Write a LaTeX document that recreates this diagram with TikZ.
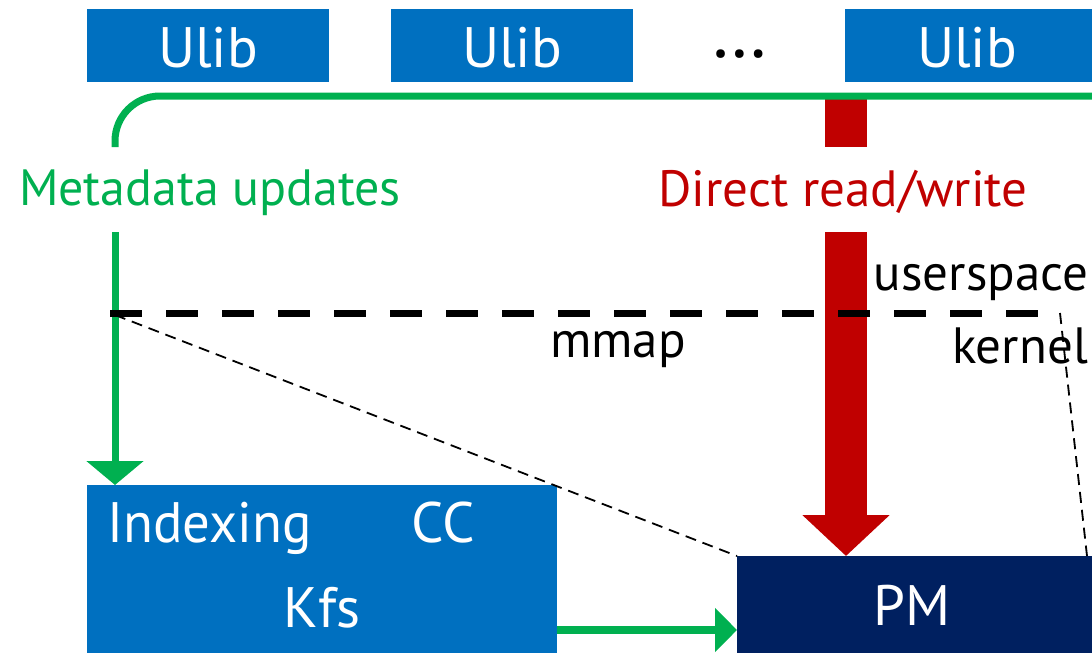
\documentclass[tikz,border=0pt]{standalone}
\usepackage{fontspec}
\setmainfont{PT Sans}
\usetikzlibrary{arrows.meta}
\definecolor{boxblue}{HTML}{0070C0}
\definecolor{flowgreen}{HTML}{00B050}
\definecolor{rwred}{HTML}{C00000}
\definecolor{pmnavy}{HTML}{002060}
\newcommand{\boxfont}{\fontsize{57}{60}\selectfont}
\newcommand{\labelfont}{\fontsize{51}{54}\selectfont}
\newcommand{\dotsfont}{\fontsize{74}{76}\selectfont}
\begin{document}
\begin{tikzpicture}[x=1pt,y=-1pt,
  solidbox/.style={rectangle, fill=#1, draw=none, inner sep=0pt, outer sep=0pt},
  boxtext/.style={text=white, font=\boxfont, inner sep=0pt, anchor=base},
  labeltext/.style={font=\labelfont, inner sep=0pt, anchor=base},
  greenline/.style={draw=flowgreen, line width=7pt},
  redline/.style={draw=rwred, line width=42pt},
  boundary/.style={draw=black, line width=7pt, dash pattern=on 32pt off 24pt},
  mapline/.style={draw=black, line width=1.8pt, dash pattern=on 11pt off 7pt}
]
\useasboundingbox (0,0) rectangle (1092,653);

% user-level libraries
\node[solidbox=boxblue, minimum width=242pt, minimum height=73pt] (u1) at (208,45.5) {};
\node[solidbox=boxblue, minimum width=242pt, minimum height=73pt] (u2) at (512,45.5) {};
\node[solidbox=boxblue, minimum width=247pt, minimum height=73pt] (u3) at (968.5,45.5) {};
\node[boxtext] (u1t) at (208,67) {Ulib};
\node[boxtext] (u2t) at (512,67) {Ulib};
\node[boxtext] (u3t) at (967,67) {Ulib};
\node[labeltext, font=\dotsfont] (dots) at (740,57) {…};

% kernel-side blocks
\node[solidbox=boxblue, minimum width=470pt, minimum height=168pt] (kfs) at (322,569) {};
\node[solidbox=pmnavy, minimum width=355pt, minimum height=97pt] (pm) at (914.5,604.5) {};
\node[boxtext] (idx) at (209.5,542) {\scalebox{0.96}[1]{Indexing}};
\node[boxtext] (cc) at (443,542) {CC};
\node[boxtext] (kfst) at (322,627) {Kfs};
\node[boxtext] (pmt) at (912,625) {PM};

% path labels
\node[labeltext, text=flowgreen] (meta) at (210,205) {\scalebox{0.98}[1]{Metadata updates}};
\node[labeltext, text=rwred] (direct) at (843,206) {Direct read/write};
\node[labeltext] (user) at (981,290) {userspace};
\node[labeltext] (kern) at (1020,363) {kernel};
\node[labeltext] (mmap) at (618,357) {mmap};

% connector end points
\coordinate (redtop) at (846,99);
\coordinate (redmid) at (846,147);
\coordinate (redstart) at (846,232);
\coordinate (greenright) at (1092,96);
\coordinate (greencorner) at (115,96);
\coordinate (greenmid) at (115,147);
\coordinate (greenstart) at (115,232);
\coordinate (bleft) at (110,313);
\coordinate (bright) at (1040,313);
\coordinate (mapleft) at (115,315);
\coordinate (mapright) at (1060,313);
\coordinate (pmcorner) at (1087,556);
\coordinate (kfsout) at (557,630);

% direct read/write path
\draw[redline] (redtop) -- (redmid);
\draw[redline, -{Triangle[length=41pt,width=85pt]}] (redstart) -- (redstart |- pm.north);

% metadata path
\draw[greenline, rounded corners=45pt] (greenright) -- (greencorner) -- (greenmid);
\draw[greenline, -{Triangle[length=24pt,width=56pt]}] (greenstart) -- (greenstart |- kfs.north);
\draw[draw=flowgreen, line width=8pt, -{Triangle[length=22pt,width=43pt]}] (kfsout) -- (kfsout -| pm.west);

% userspace / kernel boundary and mapping
\draw[boundary] (bleft) -- (bright);
\draw[mapline] (mapleft) -- (pm.north west);
\draw[mapline] (mapright) -- (pmcorner);
\end{tikzpicture}
\end{document}
